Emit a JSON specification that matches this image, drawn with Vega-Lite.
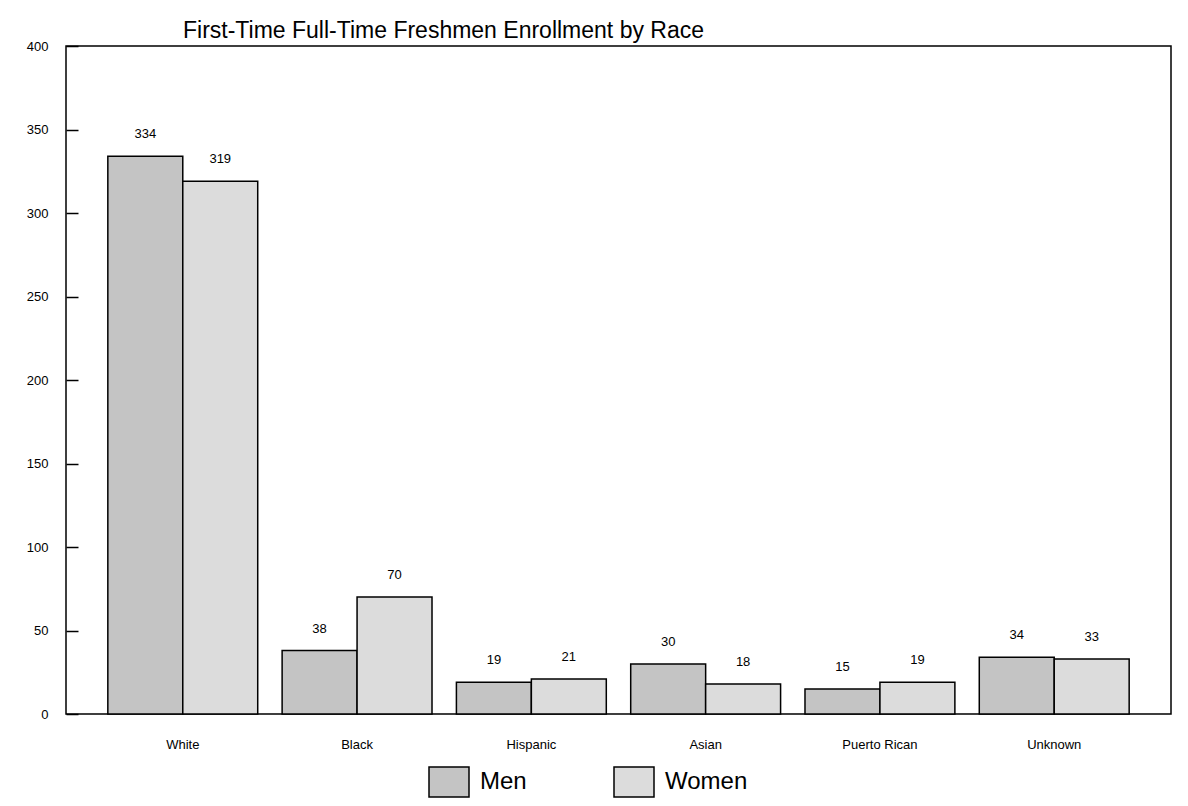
{
  "$schema": "https://vega.github.io/schema/vega-lite/v6.json",
  "width": 1105,
  "height": 668,
  "autosize": "none",
  "padding": {"left": 66, "top": 46, "right": 17, "bottom": 92},
  "background": "white",
  "config": {
    "font": "Liberation Sans",
    "view": {"stroke": "black", "strokeWidth": 1.5}
  },
  "title": {
    "text": "First-Time Full-Time Freshmen Enrollment by Race",
    "anchor": "start",
    "frame": "group",
    "dx": 117,
    "offset": -3,
    "fontSize": 23,
    "fontWeight": "normal",
    "color": "black"
  },
  "data": {
    "values": [
      {"race": "White", "sex": "Men", "value": 334},
      {"race": "White", "sex": "Women", "value": 319},
      {"race": "Black", "sex": "Men", "value": 38},
      {"race": "Black", "sex": "Women", "value": 70},
      {"race": "Hispanic", "sex": "Men", "value": 19},
      {"race": "Hispanic", "sex": "Women", "value": 21},
      {"race": "Asian", "sex": "Men", "value": 30},
      {"race": "Asian", "sex": "Women", "value": 18},
      {"race": "Puerto Rican", "sex": "Men", "value": 15},
      {"race": "Puerto Rican", "sex": "Women", "value": 19},
      {"race": "Unknown", "sex": "Men", "value": 34},
      {"race": "Unknown", "sex": "Women", "value": 33}
    ]
  },
  "encoding": {
    "x": {
      "field": "race",
      "type": "nominal",
      "sort": ["White", "Black", "Hispanic", "Asian", "Puerto Rican", "Unknown"],
      "scale": {"paddingInner": 0.14, "paddingOuter": 0.24},
      "axis": {
        "title": null,
        "labelAngle": 0,
        "ticks": false,
        "domain": false,
        "labelPadding": 24,
        "labelFontSize": 13,
        "labelColor": "black"
      }
    },
    "xOffset": {"field": "sex", "type": "nominal", "sort": ["Men", "Women"]},
    "y": {
      "field": "value",
      "type": "quantitative",
      "scale": {"domain": [0, 400], "nice": false},
      "axis": {
        "title": null,
        "values": [0, 50, 100, 150, 200, 250, 300, 350, 400],
        "grid": false,
        "domain": false,
        "tickSize": -12,
        "tickColor": "black",
        "tickWidth": 1.5,
        "labelPadding": 30,
        "labelFontSize": 13,
        "labelColor": "black"
      }
    }
  },
  "layer": [
    {
      "mark": {"type": "bar", "stroke": "black", "strokeWidth": 1.5},
      "encoding": {
        "fill": {
          "field": "sex",
          "type": "nominal",
          "scale": {"domain": ["Men", "Women"], "range": ["#c4c4c4", "#dcdcdc"]},
          "legend": {
            "title": null,
            "orient": "none",
            "direction": "horizontal",
            "legendX": 362,
            "legendY": 715,
            "symbolType": "M-1,-0.75H1V0.75H-1Z",
            "symbolSize": 1600,
            "symbolStrokeColor": "black",
            "symbolStrokeWidth": 1.5,
            "labelFontSize": 24,
            "labelColor": "black",
            "labelOffset": 10,
            "columnPadding": 84
          }
        }
      }
    },
    {
      "mark": {"type": "text", "dy": -22, "fontSize": 13, "color": "black"},
      "encoding": {"text": {"field": "value", "type": "quantitative"}}
    }
  ]
}
